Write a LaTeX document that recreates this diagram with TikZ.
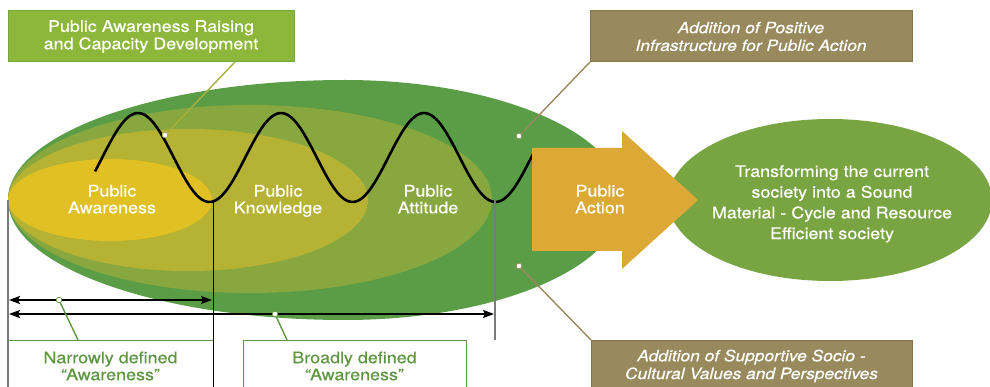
\documentclass[tikz,border=0pt]{standalone}
\usepackage{fontspec}
\setmainfont{TeX Gyre Heros}[FakeStretch=1.12,FakeBold=0.45]
\usetikzlibrary{shapes.geometric,arrows.meta}
\definecolor{dkgreen}{HTML}{5A9D46}
\definecolor{olive}{HTML}{88A83F}
\definecolor{yolive}{HTML}{B6B234}
\definecolor{yel}{HTML}{E0C022}
\definecolor{actcol}{HTML}{DDA936}
\definecolor{goalcol}{HTML}{79A442}
\definecolor{boxgreen}{HTML}{8CB73A}
\definecolor{boxgreenline}{HTML}{74A83C}
\definecolor{brownfill}{HTML}{998A5E}
\definecolor{brownline}{HTML}{85744A}
\definecolor{txtgreen}{HTML}{5E9641}
\definecolor{leadgreen}{HTML}{A8B03F}
\definecolor{greyline}{HTML}{7A7A7A}
\tikzset{
  lbl/.style={text=white, align=center, inner sep=0pt, font=\fontsize{16}{16.8}\selectfont},
  gbox/.style={draw=boxgreenline, fill=boxgreen, line width=1pt, text=white, align=center, inner sep=0pt, font=\fontsize{16}{17.4}\selectfont},
  bbox/.style={draw=brownline, fill=brownfill, line width=1pt, text=white, align=center, inner sep=0pt, font=\fontsize{15.5}{17.8}\selectfont\itshape},
  wbox/.style={draw=txtgreen, fill=white, line width=1pt, text=txtgreen, align=center, inner sep=0pt, font=\fontsize{16}{17}\selectfont},
  dot/.style={circle, fill=white, draw=#1, line width=0.6pt, inner sep=0pt, minimum size=5.5pt},
  leader/.style={draw=#1, line width=1.4pt},
  dbl/.style={line width=2pt, {Stealth[length=11pt,width=8pt,inset=2pt]}-{Stealth[length=11pt,width=8pt,inset=2pt]}},
  wave/.style={line width=2.6pt, black}
}
\begin{document}
\begin{tikzpicture}[x=1pt,y=-1pt]
\useasboundingbox (0,0) rectangle (990,387);
\clip (0,0) rectangle (990,387);
% layered ellipses
\fill[dkgreen] (345,80) arc[start angle=-90, end angle=-270, x radius=337, y radius=120]
  arc[start angle=90, end angle=-90, x radius=278, y radius=120] -- cycle;
\fill[olive] (250,199) ellipse [x radius=242, y radius=94];
\fill[yolive] (188,200) ellipse [x radius=180, y radius=71];
\fill[yel] (110,200) ellipse [x radius=102, y radius=41];
% wave
\draw[wave] plot[domain=95:533, samples=160, smooth] (\x, {157.5-44.5*cos((\x-138)/143*360)});
% goal ellipse
\node[ellipse, fill=goalcol, minimum width=324pt, minimum height=162pt, inner sep=0pt] (goal) at (830,200) {};
% public action arrow
\fill[actcol] (532,148) -- (622,148) -- (622,131) -- (698,200) -- (622,269) -- (622,251) -- (532,251) -- cycle;
% bottom boxes
\node[wbox, minimum width=205pt, minimum height=52pt] (narrow) at (110.5,366) {Narrowly defined\\“Awareness”};
\node[wbox, minimum width=223pt, minimum height=52pt] (broad) at (354.5,366) {Broadly defined\\“Awareness”};
% vertical lines
\coordinate (v1t) at (8,200); \coordinate (v1b) at (8,392);
\coordinate (v2t) at (213,200); \coordinate (v2b) at (213,392);
\coordinate (v3t) at (495,200); \coordinate (v3b) at (495,340);
\draw[greyline, line width=1.3pt] (v1t) -- (v1b);
\draw[black, line width=0.9pt] (v2t) -- (v2b);
\draw[greyline, line width=1.3pt] (v3t) -- (v3b);
% double arrows
\coordinate (n1) at (9,300); \coordinate (n2) at (212,300);
\coordinate (b1) at (9,314); \coordinate (b2) at (494,314);
\draw[dbl] (n1) -- (n2);
\draw[dbl] (b1) -- (b2);
% top boxes
\node[gbox, minimum width=286pt, minimum height=51pt] (tl) at (151,36.5) {Public Awareness Raising\\and Capacity Development};
\node[bbox, minimum width=322pt, minimum height=51pt] (tr) at (751,36.5) {Addition of Positive\\Infrastructure for Public Action};
\node[bbox, minimum width=321pt, minimum height=52pt] (br) at (751.5,366) {Addition of Supportive Socio -\\Cultural Values and Perspectives};
% leaders
\coordinate (tlfoot) at (235,62);
\coordinate (trfoot) at (590,62);
\coordinate (brfoot) at (591,340);
\coordinate (nfoot) at (78,340);
\coordinate (bfoot) at (287,340);
\node[dot=leadgreen] (d1) at (165,135) {};
\node[dot=brownfill] (d2) at (519,136) {};
\node[dot=brownfill] (d3) at (519,266) {};
\node[dot=txtgreen] (d4) at (59,300) {};
\node[dot=txtgreen] (d5) at (275,314) {};
\draw[leader=leadgreen] (tlfoot) -- (d1);
\draw[leader=brownfill] (trfoot) -- (d2);
\draw[leader=brownfill] (d3) -- (brfoot);
\draw[leader=txtgreen] (d4) -- (nfoot);
\draw[leader=txtgreen] (d5) -- (bfoot);
\node[dot=leadgreen] at (d1) {};
\node[dot=brownfill] at (d2) {};
\node[dot=brownfill] at (d3) {};
\node[dot=txtgreen] at (d4) {};
\node[dot=txtgreen] at (d5) {};
% labels
\node[lbl] (aw) at (112,199.2) {Public\\Awareness};
\node[lbl] (kn) at (278,200.9) {Public\\Knowledge};
\node[lbl] (at) at (428,199.2) {Public\\Attitude};
\node[lbl] (act) at (600,199.2) {Public\\Action};
\node[lbl, font=\fontsize{16}{20.7}\selectfont] (goaltext) at (832,203.9) {Transforming the current\\society into a Sound\\Material - Cycle and Resource\\Efficient society};
\end{tikzpicture}
\end{document}
